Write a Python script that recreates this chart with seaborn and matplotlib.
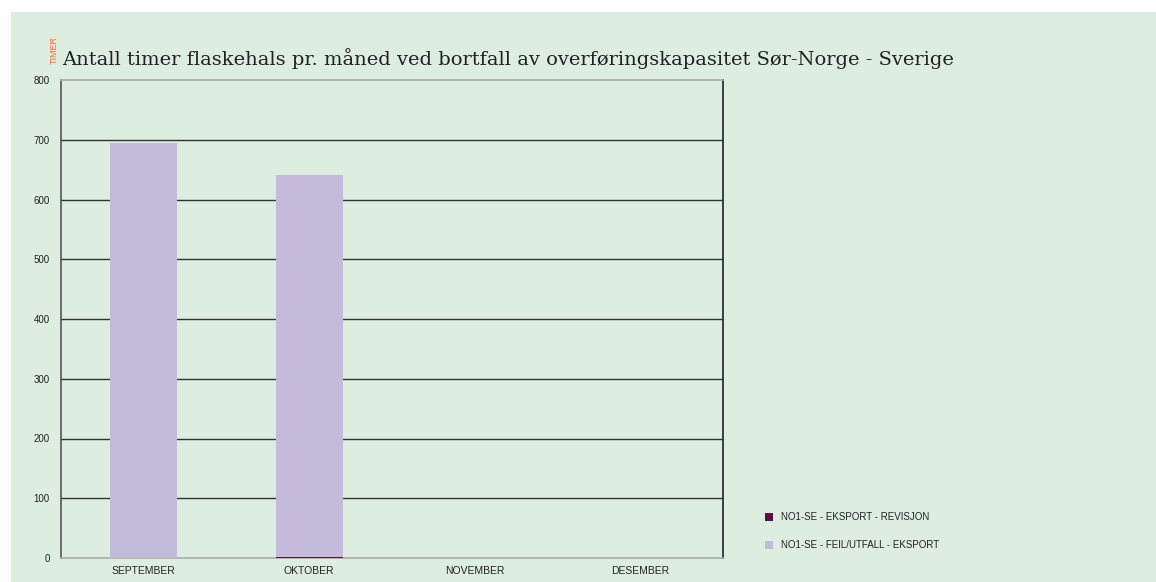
import matplotlib
matplotlib.use("Agg")
import matplotlib.pyplot as plt
import seaborn as sns
import pandas as pd
from matplotlib.patches import Rectangle

# data
maneder = ["SEPTEMBER", "OKTOBER", "NOVEMBER", "DESEMBER"]
revisjon = [0, 2, 0, 0]
feil_utfall = [694, 639, 0, 0]
serier = ["NO1-SE - EKSPORT - REVISJON", "NO1-SE - FEIL/UTFALL - EKSPORT"]
farger = ["#5c0f45", "#c4bbdb"]
y_ticks = [0, 100, 200, 300, 400, 500, 600, 700, 800]

sns.set_style("white")
plt.rcParams['font.family'] = ['Liberation Sans', 'DejaVu Sans']

bg = "#ddede0"
fig = plt.figure(figsize=(11.56, 5.82), dpi=100)
fig.patch.set_facecolor("white")
fig.patches.append(Rectangle((11 / 1156, 0), 1, 1 - 12 / 582, transform=fig.transFigure,
                             facecolor=bg, edgecolor="none", zorder=-10))

ax = fig.add_axes([61 / 1156, 1 - 558 / 582, (723 - 61) / 1156, (558 - 80) / 582])
ax.set_facecolor(bg)

df = pd.DataFrame({"maned": maneder, "revisjon": revisjon, "feil": feil_utfall})
sns.barplot(data=df, x="maned", y="revisjon", color=farger[0], width=0.405,
            saturation=1, ax=ax, zorder=3, linewidth=0, edgecolor="none")
sns.barplot(data=df, x="maned", y="feil", color=farger[1], width=0.405,
            saturation=1, bottom=df["revisjon"], ax=ax, zorder=3,
            linewidth=0, edgecolor="none")

ax.set_ylim(0, 800)
ax.set_yticks(y_ticks)
ax.set_xlabel("")
ax.set_ylabel("")
ax.tick_params(axis="both", length=0, labelsize=7, colors="#222222")
ax.tick_params(axis="x", labelsize=7.5, pad=6)
ax.tick_params(axis="y", pad=8)
for y in y_ticks[1:-1]:
    ax.axhline(y, color="#333333", lw=1.0, zorder=1)

ax.spines["top"].set_color("#aaaaaa")
ax.spines["bottom"].set_color("#aaaaaa")
ax.spines["left"].set_color("#555555")
ax.spines["right"].set_color("#222222")
for s in ax.spines.values():
    s.set_linewidth(1.2)

fig.text(62 / 1156, 1 - 65 / 582,
         "Antall timer flaskehals pr. måned ved bortfall av overføringskapasitet Sør-Norge - Sverige",
         fontsize=14, family=["DejaVu Serif"], color="#222222")
fig.text(50 / 1156, 1 - 64 / 582, "TIMER", rotation=90, fontsize=6.5,
         color="#f26a3a", va="bottom", ha="left")

# legend
for i, (navn, farge) in enumerate(zip(serier, farger)):
    ypix = 517 + 28 * i
    fig.patches.append(Rectangle((765 / 1156, 1 - (ypix + 4) / 582), 8 / 1156, 8 / 582,
                                 transform=fig.transFigure, facecolor=farge, edgecolor="none"))
    fig.text(781 / 1156, 1 - ypix / 582, navn, fontsize=7, va="center", color="#222222")

fig.savefig("out.png", dpi=100, facecolor=fig.get_facecolor())
